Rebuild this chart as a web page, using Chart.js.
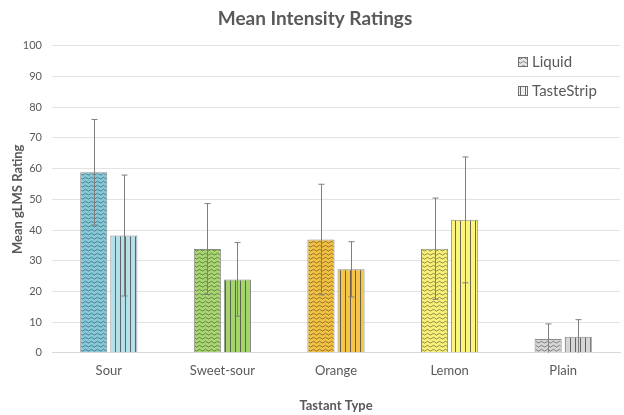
<!DOCTYPE html>
<html>
<head>
<meta charset="utf-8">
<script src="https://cdn.jsdelivr.net/npm/chart.js@4/dist/chart.umd.min.js"></script>
<style>
  html, body { margin: 0; padding: 0; background: #fff; }
  #wrap { width: 624px; height: 415px; }
</style>
</head>
<body>
<div id="wrap"><canvas id="chart" width="624" height="415"></canvas></div>
<script>
const categories = ['Sour', 'Sweet-sour', 'Orange', 'Lemon', 'Plain'];
const liquidMeans = [58.8, 33.8, 36.9, 33.9, 4.5];
const liquidErr = [17.2, 14.8, 18.0, 16.5, 4.9];
const stripMeans = [38.2, 23.9, 27.2, 43.3, 5.2];
const stripErr = [19.7, 12.0, 9.0, 20.5, 5.6];
const yTicks = { min: 0, max: 100, step: 10 };

const liquidColors = ['#80cbdc', '#a7d86c', '#f5c03c', '#fbf173', '#d6d6d6'];
const stripColors = ['#b3e0eb', '#a3d56a', '#f6c447', '#fdf47c', '#d6d6d6'];

const FONT = 'Lato, "Open Sans", sans-serif';

// Wavy pattern for Liquid
function wavePattern(color) {
  const c = document.createElement('canvas');
  c.width = 6; c.height = 4;
  const g = c.getContext('2d');
  g.fillStyle = color;
  g.fillRect(0, 0, 6, 4);
  g.strokeStyle = 'rgba(70,70,70,0.75)';
  g.lineWidth = 0.8;
  g.beginPath();
  g.moveTo(0, 2.2);
  g.quadraticCurveTo(1.5, 0.4, 3, 2.2);
  g.quadraticCurveTo(4.5, 4, 6, 2.2);
  g.stroke();
  return g.createPattern(c, 'repeat');
}

// Vertical stripes for TasteStrip
function stripePattern(color) {
  const c = document.createElement('canvas');
  c.width = 5; c.height = 4;
  const g = c.getContext('2d');
  g.fillStyle = color;
  g.fillRect(0, 0, 5, 4);
  g.fillStyle = 'rgba(80,80,80,0.85)';
  g.fillRect(0, 0, 1, 4);
  return g.createPattern(c, 'repeat');
}

const errorBars = {
  id: 'errorBars',
  afterDatasetsDraw(chart) {
    const ctx = chart.ctx;
    const y = chart.scales.y;
    const errs = [liquidErr, stripErr];
    ctx.save();
    ctx.beginPath();
    ctx.rect(chart.chartArea.left, chart.chartArea.top - 5, chart.chartArea.width, chart.chartArea.height + 5);
    ctx.clip();
    ctx.strokeStyle = '#7f7f7f';
    ctx.lineWidth = 1;
    chart.data.datasets.forEach((ds, di) => {
      const meta = chart.getDatasetMeta(di);
      meta.data.forEach((bar, i) => {
        const v = ds.data[i];
        const e = errs[di][i];
        const x = Math.round(bar.x) + 0.5;
        const top = y.getPixelForValue(v + e);
        const bot = y.getPixelForValue(v - e);
        ctx.beginPath();
        ctx.moveTo(x, top); ctx.lineTo(x, bot);
        ctx.moveTo(x - 3, top); ctx.lineTo(x + 3, top);
        ctx.moveTo(x - 3, bot); ctx.lineTo(x + 3, bot);
        ctx.stroke();
      });
    });
    ctx.restore();
  }
};

const insideLegend = {
  id: 'insideLegend',
  afterDraw(chart) {
    const ctx = chart.ctx;
    const items = [
      { label: chart.data.datasets[0].label, fill: wavePattern('#e6e6e6') },
      { label: chart.data.datasets[1].label, fill: stripePattern('#f0f0f0') }
    ];
    ctx.save();
    ctx.font = '15px ' + FONT;
    ctx.textBaseline = 'middle';
    items.forEach((it, i) => {
      const yy = 62 + i * 29;
      ctx.fillStyle = it.fill;
      ctx.fillRect(518, yy - 5, 10, 10);
      ctx.strokeStyle = '#6f6f6f';
      ctx.lineWidth = 1;
      ctx.strokeRect(518.5, yy - 4.5, 9, 9);
      ctx.fillStyle = '#595959';
      ctx.fillText(it.label, 532, yy);
    });
    ctx.restore();
  }
};

new Chart(document.getElementById('chart').getContext('2d'), {
  type: 'bar',
  data: {
    labels: categories,
    datasets: [
      {
        label: 'Liquid',
        data: liquidMeans,
        backgroundColor: liquidColors.map(wavePattern),
        borderColor: '#8a8a8a',
        borderWidth: 1,
        barPercentage: 0.9,
        categoryPercentage: 0.53
      },
      {
        label: 'TasteStrip',
        data: stripMeans,
        backgroundColor: stripColors.map(stripePattern),
        borderColor: '#8a8a8a',
        borderWidth: 1,
        barPercentage: 0.9,
        categoryPercentage: 0.53
      }
    ]
  },
  options: {
    responsive: false,
    animation: false,
    layout: { padding: { left: 10, right: 4, top: 0, bottom: 1 } },
    plugins: {
      legend: { display: false },
      tooltip: { enabled: false },
      title: {
        display: true,
        text: 'Mean Intensity Ratings',
        color: '#595959',
        font: { family: FONT, size: 19, weight: 'bold' },
        padding: { top: 7, bottom: 16 }
      }
    },
    scales: {
      x: {
        grid: { display: false },
        border: { color: '#d9d9d9' },
        ticks: { color: '#595959', font: { family: FONT, size: 13 }, padding: 2 },
        title: {
          display: true,
          text: 'Tastant Type',
          color: '#595959',
          font: { family: FONT, size: 13, weight: 'bold' },
          padding: { top: 18, bottom: 0 }
        }
      },
      y: {
        min: yTicks.min,
        max: yTicks.max,
        afterFit(scale) { scale.width = 42; },
        ticks: { stepSize: yTicks.step, color: '#595959', font: { family: FONT, size: 11 }, padding: 10 },
        grid: { color: '#e3e3e3', drawTicks: false },
        border: { display: false },
        title: {
          display: true,
          text: 'Mean gLMS Rating',
          color: '#595959',
          font: { family: FONT, size: 13, weight: 'bold' },
          padding: { top: 0, bottom: 0 }
        }
      }
    }
  },
  plugins: [errorBars, insideLegend]
});
</script>
</body>
</html>
